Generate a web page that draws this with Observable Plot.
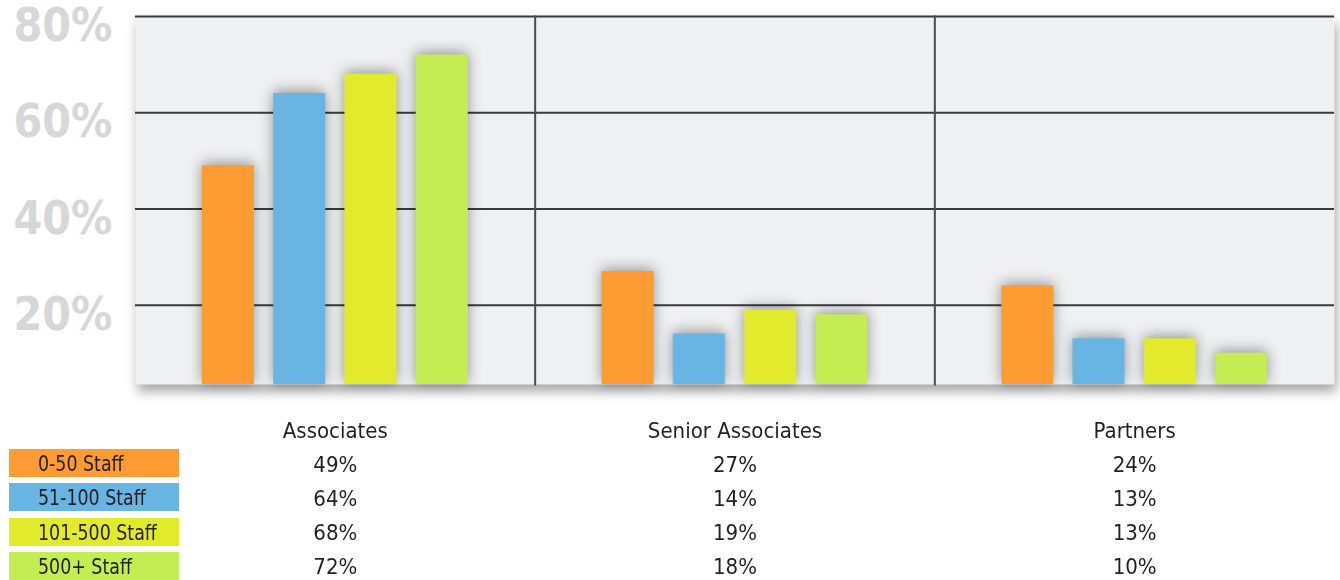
<!DOCTYPE html>
<html>
<head>
<meta charset="utf-8">
<script src="https://cdn.jsdelivr.net/npm/d3@7"></script>
<script src="https://cdn.jsdelivr.net/npm/@observablehq/plot@0.6"></script>
<style>
  html, body { margin: 0; padding: 0; background: #fff; }
  #wrap { position: relative; width: 1340px; height: 580px; overflow: hidden; }
  #chart { position: absolute; left: 0; top: 0; }
  #table { position: absolute; left: 0; top: 400px; }
  #legend { position: absolute; left: 9px; top: 449px; }
  .sw { width: 170px; height: 28px; margin-bottom: 6.3px; box-sizing: border-box; padding-left: 29px;
        font-family: "DejaVu Sans Condensed", "Liberation Sans Narrow", sans-serif; font-size: 22px;
        line-height: 29px; color: #231f20; white-space: nowrap; overflow: hidden; }
  .sw span { display: inline-block; transform: scaleX(0.88); transform-origin: left center; }
  svg { display: block; overflow: visible; }
</style>
</head>
<body>
<div id="wrap">
  <div id="chart"></div>
  <div id="table"></div>
  <div id="legend"></div>
</div>
<script>
const categories = ["Associates", "Senior Associates", "Partners"];
const series = ["0-50 Staff", "51-100 Staff", "101-500 Staff", "500+ Staff"];
const staff0to50 = [49, 27, 24];
const staff51to100 = [64, 14, 13];
const staff101to500 = [68, 19, 13];
const staff500plus = [72, 18, 10];
const yTicks = [20, 40, 60, 80];
const colors = ["#ff9b33", "#68b5e3", "#e2eb2b", "#c3ed53"];

const seriesValues = [staff0to50, staff51to100, staff101to500, staff500plus];
const rows = [];
series.forEach((s, i) => categories.forEach((c, j) => rows.push({series: s, category: c, value: seriesValues[i][j]})));

const cond = '"DejaVu Sans Condensed", "Liberation Sans Narrow", sans-serif';

const chart = Plot.plot({
  width: 1340,
  height: 400,
  marginLeft: 135,
  marginRight: 6,
  marginTop: 16,
  marginBottom: 16,
  style: {fontFamily: cond, background: "transparent"},
  fx: {domain: categories, padding: 0, axis: null, round: false},
  x: {domain: series, paddingInner: 0.27, paddingOuter: 0.94, axis: null, round: false},
  y: {domain: [3.5, 80], axis: null},
  color: {domain: series, range: colors},
  marks: [
    Plot.frame({fill: "#eff0f2", stroke: null, ariaLabel: "bg"}),
    Plot.gridY(yTicks, {stroke: "#3a3a3c", strokeOpacity: 1, strokeWidth: 2}),
    Plot.frame({anchor: "left", fx: categories[1], stroke: "#4a4a4c", strokeWidth: 2}),
    Plot.frame({anchor: "left", fx: categories[2], stroke: "#4a4a4c", strokeWidth: 2}),
    Plot.barY(rows, {fx: "category", x: "series", y: "value", fill: "series", clip: true}),
    Plot.axisY(yTicks, {tickSize: 0, tickPadding: 23, tickFormat: d => d + "%", fontSize: 46, label: null,
      fontWeight: "bold", fill: "#d6d7d9", dy: 10, ariaLabel: "ylabels"})
  ]
});
d3.select(chart).selectAll('g[aria-label="bg"]').style("filter", "drop-shadow(2px 7px 6px rgba(0,0,0,0.35))");
d3.select(chart).selectAll('g[aria-label="bar"]').style("filter", "drop-shadow(0px -2px 7px rgba(0,0,0,0.4))");
d3.select(chart).selectAll('g[aria-label="ylabels"] text').attr("textLength", 82).attr("lengthAdjust", "spacingAndGlyphs");
document.getElementById("chart").append(chart);

const table = Plot.plot({
  width: 1340,
  height: 184,
  marginLeft: 135,
  marginRight: 6,
  marginTop: 46,
  marginBottom: 0,
  style: {fontFamily: cond, background: "transparent", color: "#231f20"},
  fx: {domain: categories, padding: 0, round: false},
  y: {domain: series, axis: null, padding: 0.5},
  marks: [
    Plot.axisFx({anchor: "top", tickSize: 0, tickPadding: 9, fontSize: 22, label: null, fill: "#231f20"}),
    Plot.text(rows, {fx: "category", y: "series", text: d => d.value + "%", fontSize: 22, fill: "#231f20"})
  ]
});
document.getElementById("table").append(table);

const legend = d3.select("#legend");
series.forEach((s, i) => legend.append("div").attr("class", "sw").style("background", colors[i]).append("span").text(s));
</script>
</body>
</html>
